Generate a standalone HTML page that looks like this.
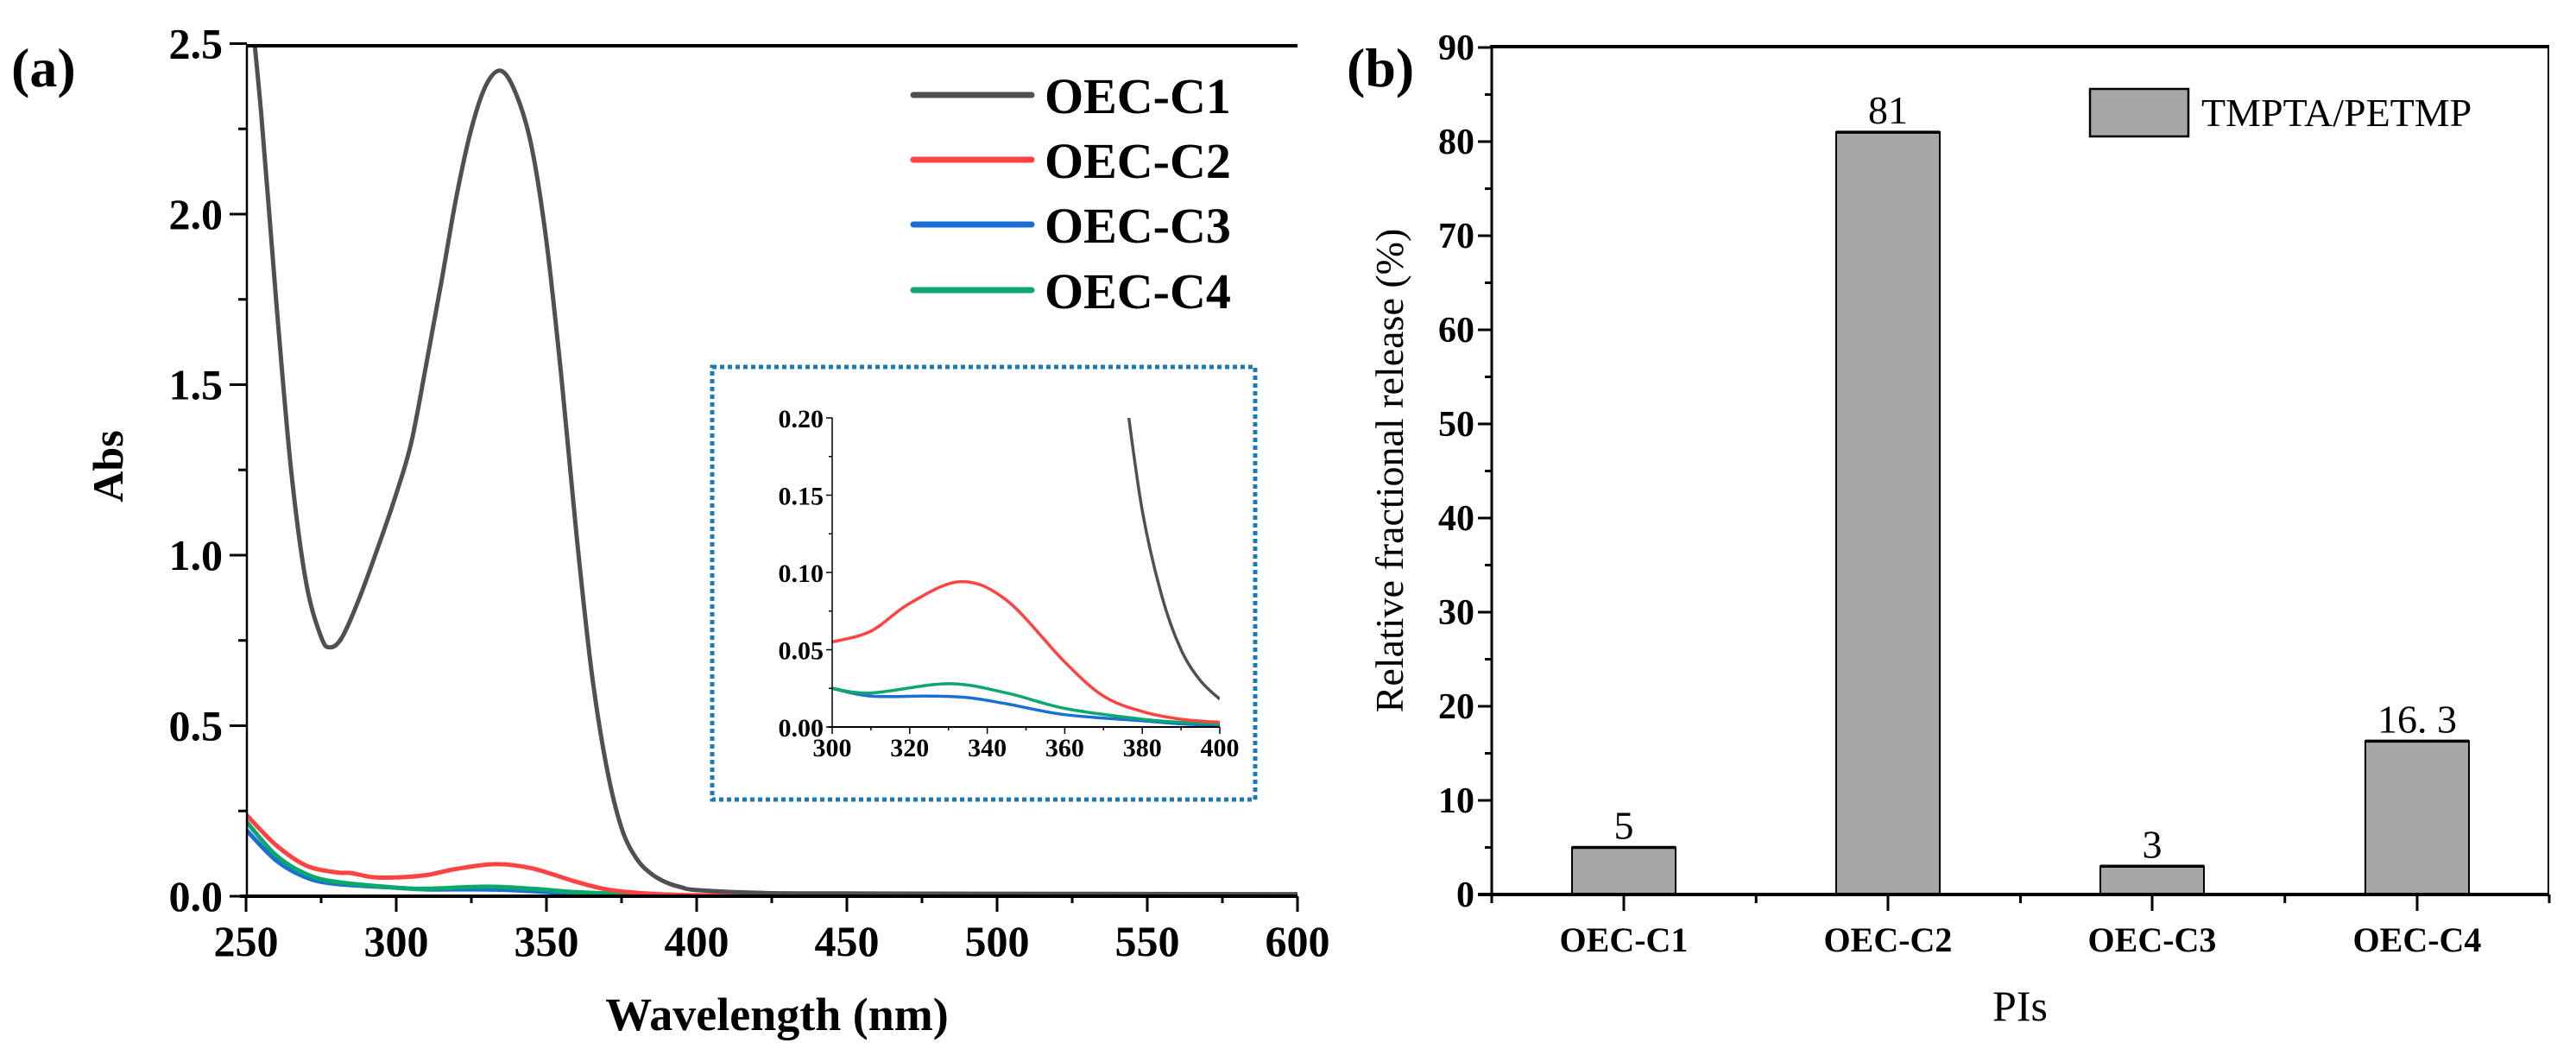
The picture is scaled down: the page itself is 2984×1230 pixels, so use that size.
<!DOCTYPE html>
<html><head><meta charset="utf-8"><style>
html,body{margin:0;padding:0;background:#fff;}
svg{display:block;font-family:"Liberation Serif",serif;}
text{font-family:"Liberation Serif",serif;}
.rot{position:absolute;font-family:"Liberation Serif",serif;white-space:nowrap;transform:translate(-50%,-50%) rotate(-90deg);line-height:1;}
</style></head><body>
<div style="position:relative;width:2984px;height:1230px;">
<svg id="s" width="2984" height="1230" viewBox="0 0 2984 1230" xmlns="http://www.w3.org/2000/svg">
<defs>
<clipPath id="ca"><rect x="285" y="53" width="1218" height="985"/></clipPath>
<clipPath id="ci"><rect x="964" y="484" width="449" height="358"/></clipPath>
</defs>
<rect width="2984" height="1230" fill="#fff"/>
<text x="13" y="100" font-size="64" font-weight="bold">(a)</text>
<g id="curves" clip-path="url(#ca)" fill="none" stroke-width="5" stroke-linejoin="round" stroke-linecap="round"></g>
<line x1="285" y1="53" x2="1503" y2="53" stroke="#000" stroke-width="4"/>
<line x1="286" y1="53" x2="286" y2="1038" stroke="#000" stroke-width="2.5"/>
<line x1="278" y1="1038" x2="1503" y2="1038" stroke="#000" stroke-width="4"/>
<g id="atick" stroke="#000" stroke-width="3"></g>
<g font-size="50" font-weight="bold" text-anchor="end" id="aylab"></g>
<g font-size="50" font-weight="bold" text-anchor="middle" id="axlab"></g>
<text x="900" y="1193" font-size="54" font-weight="bold" text-anchor="middle">Wavelength (nm)</text>
<g stroke-width="7" stroke-linecap="round">
<line x1="1058" y1="110" x2="1195" y2="110" stroke="#505050"/>
<line x1="1058" y1="185" x2="1195" y2="185" stroke="#ff4242"/>
<line x1="1058" y1="260" x2="1195" y2="260" stroke="#1a6fd6"/>
<line x1="1058" y1="336" x2="1195" y2="336" stroke="#0aa86a"/>
</g>
<g font-size="58" font-weight="bold">
<text x="1210" y="131">OEC-C1</text>
<text x="1210" y="206">OEC-C2</text>
<text x="1210" y="281">OEC-C3</text>
<text x="1210" y="357">OEC-C4</text>
</g>
<rect x="825" y="425" width="629" height="501" fill="none" stroke="#1a7ab8" stroke-width="5" stroke-dasharray="5 4"/>
<g id="icurves" clip-path="url(#ci)" fill="none" stroke-width="3.5" stroke-linejoin="round"></g>
<line x1="964" y1="484" x2="964" y2="842" stroke="#000" stroke-width="1.5"/>
<line x1="960" y1="842" x2="1413" y2="842" stroke="#000" stroke-width="2"/>
<g id="itick" stroke="#000" stroke-width="1.5"></g>
<g font-size="30" font-weight="bold" text-anchor="end" id="iylab"></g>
<g font-size="30" font-weight="bold" text-anchor="middle" id="ixlab"></g>
<text x="1560" y="100" font-size="64" font-weight="bold">(b)</text>
<g id="bars"></g>
<line x1="1726" y1="54" x2="2953" y2="54" stroke="#000" stroke-width="4"/>
<line x1="1728" y1="54" x2="1728" y2="1036" stroke="#000" stroke-width="3"/>
<line x1="2952" y1="54" x2="2952" y2="1036" stroke="#000" stroke-width="2"/>
<line x1="1712" y1="1036" x2="2953" y2="1036" stroke="#000" stroke-width="4"/>
<g id="btick" stroke="#000" stroke-width="3"></g>
<g font-size="42" font-weight="bold" text-anchor="end" id="bylab"></g>
<g font-size="40" font-weight="bold" text-anchor="middle">
<text x="1881" y="1102">OEC-C1</text>
<text x="2187" y="1102">OEC-C2</text>
<text x="2493" y="1102">OEC-C3</text>
<text x="2800" y="1102">OEC-C4</text>
</g>
<text x="2340" y="1182" font-size="50" text-anchor="middle">PIs</text>
<rect x="2421" y="103" width="114" height="55" fill="#a6a6a6" stroke="#000" stroke-width="2.5"/>
<text x="2550" y="146" font-size="46">TMPTA/PETMP</text>
</svg>
<div class="rot" style="left:125px;top:540px;font-size:50px;font-weight:bold;">Abs</div>
<div class="rot" style="left:1610px;top:545px;font-size:46px;">Relative fractional release (%)</div>
</div>
<script>
var NS="http://www.w3.org/2000/svg";
function el(p,t,a,txt){var e=document.createElementNS(NS,t);for(var k in a)e.setAttribute(k,a[k]);if(txt!==undefined)e.textContent=txt;p.appendChild(e);return e;}
function g(id){return document.getElementById(id);}
function smooth(pts){var d="M"+pts[0][0].toFixed(1)+","+pts[0][1].toFixed(1);
 for(var i=0;i<pts.length-1;i++){var p0=pts[i-1]||pts[i],p1=pts[i],p2=pts[i+1],p3=pts[i+2]||p2;
 var c1=[p1[0]+(p2[0]-p0[0])/6,p1[1]+(p2[1]-p0[1])/6],c2=[p2[0]-(p3[0]-p1[0])/6,p2[1]-(p3[1]-p1[1])/6];
 d+=" C"+c1[0].toFixed(1)+","+c1[1].toFixed(1)+" "+c2[0].toFixed(1)+","+c2[1].toFixed(1)+" "+p2[0].toFixed(1)+","+p2[1].toFixed(1);}
 return d;}
var X=function(w){return 285+(w-250)*3.48;},Y=function(a){return 1038-a*395;};
var C1=[[250,2.75],[255,2.3],[260,1.75],[265,1.25],[270,0.92],[275,0.76],[278,0.73],[282,0.76],[288,0.88],[295,1.05],[300,1.18],[305,1.33],[310,1.56],[315,1.8],[320,2.05],[325,2.25],[330,2.38],[335,2.42],[340,2.35],[345,2.2],[350,1.92],[355,1.52],[360,1.06],[365,0.66],[370,0.38],[375,0.2],[380,0.11],[385,0.065],[390,0.04],[395,0.026],[400,0.018],[420,0.01],[450,0.008],[600,0.006]];
var C2=[[250,0.24],[260,0.15],[270,0.09],[280,0.07],[285,0.068],[292,0.056],[300,0.055],[310,0.062],[320,0.08],[333,0.094],[345,0.082],[360,0.042],[370,0.02],[380,0.01],[390,0.005],[400,0.003],[420,0.003],[600,0.003]];
var C4=[[250,0.22],[260,0.12],[270,0.065],[280,0.042],[300,0.025],[310,0.022],[330,0.028],[345,0.022],[360,0.012],[380,0.005],[390,0.003],[400,0.002],[420,0.002],[600,0.002]];
var C3=[[250,0.195],[260,0.105],[270,0.055],[280,0.036],[300,0.025],[310,0.02],[325,0.02],[335,0.019],[345,0.015],[360,0.008],[380,0.004],[390,0.002],[400,0.001],[420,0.001],[600,0.001]];
function cut(d){return d.filter(function(p){return p[0]>=300&&p[0]<=400;});}
function draw(par,data,col,fx,fy){el(par,"path",{d:smooth(data.map(function(p){return[fx(p[0]),fy(p[1])];})),stroke:col});}
var cv=g("curves");
draw(cv,C3,"#1a6fd6",X,Y);draw(cv,C4,"#0aa86a",X,Y);draw(cv,C2,"#ff4242",X,Y);draw(cv,C1,"#505050",X,Y);
var at=g("atick");
for(var w=250;w<=600;w+=25){var big=(w%50==0);el(at,"line",{x1:X(w),y1:1038,x2:X(w),y2:big?1056:1046});}
for(var v=0;v<=2.5;v+=0.25){var big=(Math.round(v*4)%2==0);el(at,"line",{x1:big?266:276,y1:Y(v),x2:286,y2:Y(v)});}
for(var i=0;i<=5;i++){var v=i*0.5;el(g("aylab"),"text",{x:258,y:Y(v)+17},v.toFixed(1));}
for(var w=250;w<=600;w+=50)el(g("axlab"),"text",{x:X(w),y:1107},""+w);
var XI=function(w){return 964+(w-300)*4.49;},YI=function(a){return 842-a*1790;};
var ic=g("icurves");
draw(ic,cut(C3),"#1a6fd6",XI,YI);draw(ic,cut(C4),"#0aa86a",XI,YI);draw(ic,cut(C2),"#ff4242",XI,YI);
draw(ic,[[376,0.21],[380,0.14],[385,0.085],[390,0.05],[395,0.03],[400,0.018]],"#505050",XI,YI);
var it=g("itick");
for(var w=300;w<=400;w+=10){var big=(w%20==0);el(it,"line",{x1:XI(w),y1:842,x2:XI(w),y2:big?850:846});}
for(var k=0;k<=8;k++){var v=k*0.025;el(it,"line",{x1:k%2==0?957:960,y1:YI(v),x2:964,y2:YI(v)});}
for(var k=0;k<=4;k++){var v=k*0.05;el(g("iylab"),"text",{x:954,y:YI(v)+11},v.toFixed(2));}
for(var w=300;w<=400;w+=20)el(g("ixlab"),"text",{x:XI(w),y:876},""+w);
var YB=function(v){return 1036-v*10.9;};
var bars=g("bars"),cx=[1881,2187,2493,2800],vals=[5,81,3,16.3],lab=["5","81","3","16. 3"];
for(var i=0;i<4;i++){el(bars,"rect",{x:cx[i]-60,y:YB(vals[i]),width:120,height:1036-YB(vals[i]),fill:"#a6a6a6",stroke:"#000","stroke-width":2});
 el(bars,"line",{x1:cx[i]-60,y1:YB(vals[i]),x2:cx[i]+60,y2:YB(vals[i]),stroke:"#000","stroke-width":3.5});
 el(bars,"text",{x:cx[i],y:YB(vals[i])-10,"font-size":46,"text-anchor":"middle"},lab[i]);}
var bt=g("btick");
for(var v=0;v<=90;v+=5){var big=(v%10==0);el(bt,"line",{x1:big?1712:1720,y1:YB(v),x2:1728,y2:YB(v)});}
for(var v=0;v<=90;v+=10)el(g("bylab"),"text",{x:1708,y:YB(v)+14},""+v);
for(var i=0;i<4;i++)el(bt,"line",{x1:cx[i],y1:1036,x2:cx[i],y2:1055});
for(var i=0;i<=4;i++){var xx=1728+i*306.25;el(bt,"line",{x1:xx,y1:1036,x2:xx,y2:1046});}
</script>
</body></html>
